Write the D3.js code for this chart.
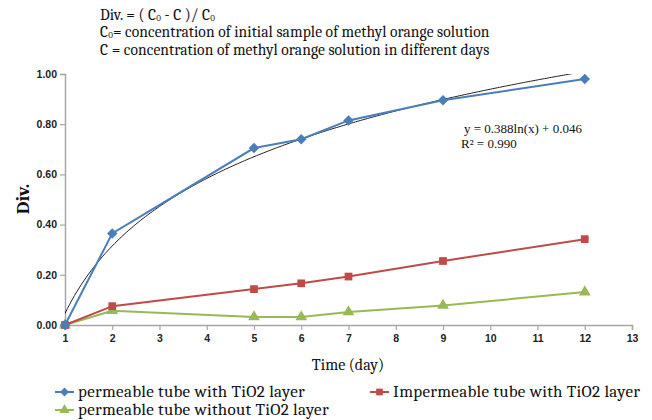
<!DOCTYPE html>
<html><head><meta charset="utf-8">
<script src="https://cdn.jsdelivr.net/npm/d3@7"></script>
<style>body{margin:0;background:#fff}svg{display:block}</style>
</head><body>
<svg id="c" width="652" height="420"></svg>
<script>
const days = [1, 2, 5, 6, 7, 9, 12];
const permeableWithTiO2 = [0.000, 0.365, 0.705, 0.740, 0.815, 0.895, 0.980];
const impermeableWithTiO2 = [0.000, 0.075, 0.143, 0.166, 0.193, 0.255, 0.342];
const permeableWithoutTiO2 = [0.000, 0.057, 0.032, 0.032, 0.052, 0.078, 0.131];
const xTicks = [1,2,3,4,5,6,7,8,9,10,11,12,13];
const yTicks = [0, 0.2, 0.4, 0.6, 0.8, 1.0];
const trendA = 0.388, trendB = 0.046, trendR2 = 0.990;
const trendRange = [1, 12];
const seriesNames = ["permeable tube with TiO2 layer", "Impermeable tube with TiO2 layer", "permeable tube without TiO2 layer"];

const svg = d3.select("#c");
const x = d3.scaleLinear().domain([1, 13]).range([65, 632]);
const y = d3.scaleLinear().domain([0, 1]).range([325, 74]);
const serif = "Cambria, 'Liberation Serif', 'DejaVu Serif', serif";
const tickFont = "'Liberation Sans Narrow', 'Arial Narrow', 'Liberation Sans', Arial, sans-serif";

// header text
const hdr = svg.append("g").attr("font-family", serif).attr("font-size", 15.5).attr("letter-spacing", 0.1).attr("fill", "#111");
const h1 = hdr.append("text").attr("x", 100).attr("y", 20);
h1.append("tspan").text("Div. = ( C");
h1.append("tspan").attr("dy", 1).attr("font-size", 9).text("0");
h1.append("tspan").attr("dy", -1).text(" - C )/ C");
h1.append("tspan").attr("dy", 1).attr("font-size", 9).text("0");
const h2 = hdr.append("text").attr("x", 100).attr("y", 37);
h2.append("tspan").text("C");
h2.append("tspan").attr("dy", 1).attr("font-size", 9).text("0");
h2.append("tspan").attr("dy", -1).text("= concentration of initial sample of methyl orange solution");
hdr.append("text").attr("x", 100).attr("y", 55).text("C = concentration of methyl orange solution in different days");

// axes
const axisColor = "#a6a6a6";
const xAxis = svg.append("g").attr("transform", `translate(0,${y(0)})`)
  .call(d3.axisBottom(x).tickValues(xTicks).tickFormat(d3.format("d")).tickSize(5).tickPadding(5));
const yAxis = svg.append("g").attr("transform", `translate(${x(1)},0)`)
  .call(d3.axisLeft(y).tickValues(yTicks).tickFormat(d3.format(".2f")).tickSize(5).tickPadding(3));
[xAxis, yAxis].forEach(g => {
  g.select(".domain").attr("stroke", axisColor).attr("stroke-width", 1.5);
  g.selectAll(".tick line").attr("stroke", axisColor).attr("stroke-width", 1.2);
  g.selectAll(".tick text").attr("fill", "#222").attr("font-family", tickFont)
    .attr("font-size", 10.5).attr("font-weight", "bold");
});

// trendline (from displayed equation)
svg.append("clipPath").attr("id", "plotclip").append("rect")
  .attr("x", x(1)).attr("y", y(1)).attr("width", x(13) - x(1)).attr("height", y(0) - y(1));
const tPts = d3.range(trendRange[0], trendRange[1] + 0.001, 0.05).map(d => [d, trendA * Math.log(d) + trendB]);
svg.append("path").datum(tPts).attr("clip-path", "url(#plotclip)")
  .attr("fill", "none").attr("stroke", "#222").attr("stroke-width", 1)
  .attr("d", d3.line().x(d => x(d[0])).y(d => y(d[1])));

const series = [
  {name: seriesNames[0], vals: permeableWithTiO2, color: "#4a7ebb", sym: d3.symbolSquare, size: 55, rot: 45},
  {name: seriesNames[1], vals: impermeableWithTiO2, color: "#be4b48", sym: d3.symbolSquare, size: 60, rot: 0},
  {name: seriesNames[2], vals: permeableWithoutTiO2, color: "#98b954", sym: d3.symbolTriangle, size: 60, rot: 0},
];
const line = d3.line().x(d => x(d[0])).y(d => y(d[1]));
[2, 1, 0].forEach(i => {
  const s = series[i];
  const pts = days.map((d, j) => [d, s.vals[j]]);
  svg.append("path").datum(pts).attr("fill", "none").attr("stroke", s.color).attr("stroke-width", 2).attr("d", line);
  svg.append("g").selectAll("path").data(pts).join("path")
    .attr("transform", d => `translate(${x(d[0])},${y(d[1])}) rotate(${s.rot})`)
    .attr("d", d3.symbol().type(s.sym).size(s.size)).attr("fill", s.color);
});

// equation
const eq = svg.append("g").attr("font-family", "'Liberation Serif', 'Times New Roman', serif").attr("font-size", 13).attr("fill", "#111");
eq.append("text").attr("x", 464).attr("y", 133).text(`y = ${trendA}ln(x) + ${trendB.toFixed(3)}`);
eq.append("text").attr("x", 461).attr("y", 148).text(`R² = ${trendR2.toFixed(3)}`);

// axis titles
svg.append("text").attr("transform", "translate(29,199) rotate(-90)").attr("text-anchor", "middle")
  .attr("font-family", serif).attr("font-size", 19).attr("font-weight", "bold").attr("fill", "#111").text("Div.");
svg.append("text").attr("x", 348).attr("y", 370).attr("text-anchor", "middle")
  .attr("font-family", serif).attr("font-size", 16).attr("fill", "#111").text("Time (day)");

// legend
const legPos = [[55, 392], [370, 392], [55, 410]];
series.forEach((s, i) => {
  const [lx, ly] = legPos[i];
  const g = svg.append("g").attr("transform", `translate(${lx},${ly})`);
  g.append("line").attr("x1", 0).attr("x2", 19).attr("stroke", s.color).attr("stroke-width", 2);
  g.append("path").attr("transform", `translate(9.5,0) rotate(${s.rot})`).attr("d", d3.symbol().type(s.sym).size(s.size * 0.75)).attr("fill", s.color);
  g.append("text").attr("x", 23).attr("y", 5).attr("font-family", serif).attr("font-size", 17)
    .attr("letter-spacing", 0.3).attr("fill", "#111").text(s.name);
});
</script>
</body></html>
